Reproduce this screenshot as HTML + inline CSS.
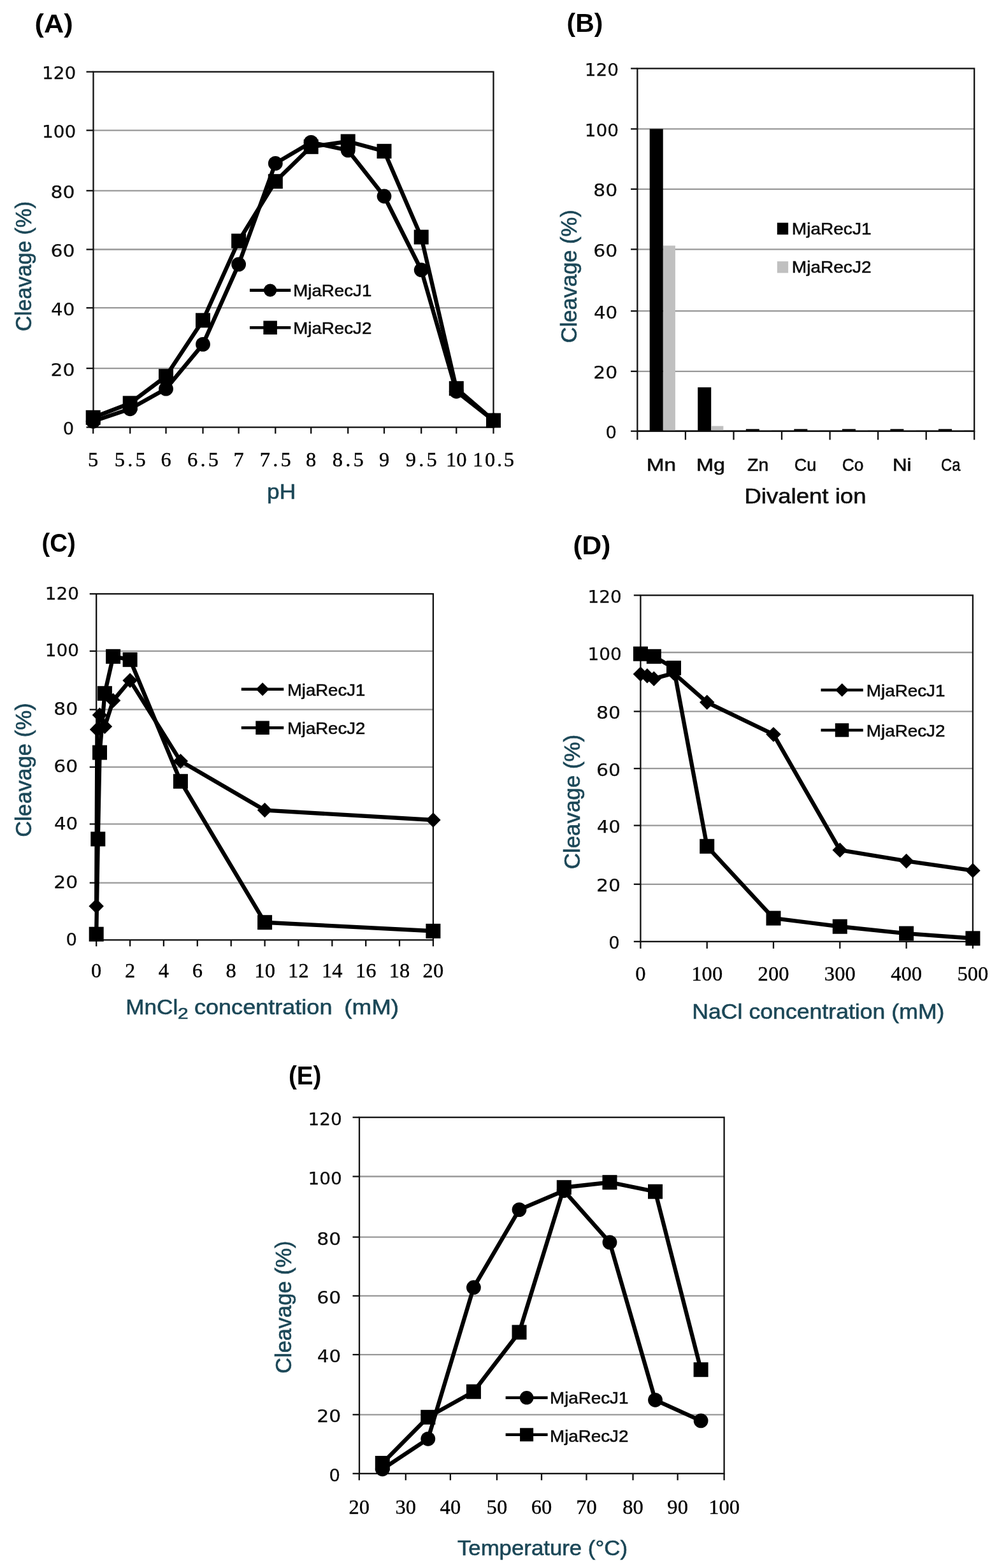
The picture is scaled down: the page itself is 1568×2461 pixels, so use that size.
<!DOCTYPE html><html><head><meta charset="utf-8"><title>MjaRecJ cleavage activity</title><style>html,body{margin:0;padding:0;background:#fff;}svg{display:block;filter:blur(0.45px);}</style></head><body>
<svg width="1568" height="2461" viewBox="0 0 1568 2461">
<rect width="1568" height="2461" fill="#fff"/>
<line x1="146.5" y1="578.1" x2="774.5" y2="578.1" stroke="#999" stroke-width="2.3"/>
<line x1="146.5" y1="483.2" x2="774.5" y2="483.2" stroke="#999" stroke-width="2.3"/>
<line x1="146.5" y1="391.5" x2="774.5" y2="391.5" stroke="#999" stroke-width="2.3"/>
<line x1="146.5" y1="299.3" x2="774.5" y2="299.3" stroke="#999" stroke-width="2.3"/>
<line x1="146.5" y1="204.6" x2="774.5" y2="204.6" stroke="#999" stroke-width="2.3"/>
<rect x="146.5" y="112.7" width="628" height="557.9" fill="none" stroke="#111" stroke-width="2.3"/>
<line x1="135.5" y1="670.6" x2="146.5" y2="670.6" stroke="#111" stroke-width="2.3"/>
<line x1="135.5" y1="578.1" x2="146.5" y2="578.1" stroke="#111" stroke-width="2.3"/>
<line x1="135.5" y1="483.2" x2="146.5" y2="483.2" stroke="#111" stroke-width="2.3"/>
<line x1="135.5" y1="391.5" x2="146.5" y2="391.5" stroke="#111" stroke-width="2.3"/>
<line x1="135.5" y1="299.3" x2="146.5" y2="299.3" stroke="#111" stroke-width="2.3"/>
<line x1="135.5" y1="204.6" x2="146.5" y2="204.6" stroke="#111" stroke-width="2.3"/>
<line x1="135.5" y1="112.7" x2="146.5" y2="112.7" stroke="#111" stroke-width="2.3"/>
<text x="98.7" y="682.1" font-size="26.5" font-family="'DejaVu Sans', Verdana, sans-serif" font-weight="normal" textLength="17.43" lengthAdjust="spacingAndGlyphs" fill="#0d0d0d" stroke="#0d0d0d" stroke-width="0.25">0</text>
<text x="79.5" y="589.6" font-size="26.5" font-family="'DejaVu Sans', Verdana, sans-serif" font-weight="normal" textLength="37.95" lengthAdjust="spacingAndGlyphs" fill="#0d0d0d" stroke="#0d0d0d" stroke-width="0.25">20</text>
<text x="80.1" y="494.7" font-size="26.5" font-family="'DejaVu Sans', Verdana, sans-serif" font-weight="normal" textLength="37.29" lengthAdjust="spacingAndGlyphs" fill="#0d0d0d" stroke="#0d0d0d" stroke-width="0.25">40</text>
<text x="79.5" y="403" font-size="26.5" font-family="'DejaVu Sans', Verdana, sans-serif" font-weight="normal" textLength="37.95" lengthAdjust="spacingAndGlyphs" fill="#0d0d0d" stroke="#0d0d0d" stroke-width="0.25">60</text>
<text x="79.5" y="310.8" font-size="26.5" font-family="'DejaVu Sans', Verdana, sans-serif" font-weight="normal" textLength="37.95" lengthAdjust="spacingAndGlyphs" fill="#0d0d0d" stroke="#0d0d0d" stroke-width="0.25">80</text>
<text x="65.9" y="216.1" font-size="26.5" font-family="'DejaVu Sans', Verdana, sans-serif" font-weight="normal" textLength="53.29" lengthAdjust="spacingAndGlyphs" fill="#0d0d0d" stroke="#0d0d0d" stroke-width="0.25">100</text>
<text x="65.9" y="124.2" font-size="26.5" font-family="'DejaVu Sans', Verdana, sans-serif" font-weight="normal" textLength="53.29" lengthAdjust="spacingAndGlyphs" fill="#0d0d0d" stroke="#0d0d0d" stroke-width="0.25">120</text>
<line x1="146.2" y1="670.6" x2="146.2" y2="680.6" stroke="#111" stroke-width="2.3"/>
<line x1="204.2" y1="670.6" x2="204.2" y2="680.6" stroke="#111" stroke-width="2.3"/>
<line x1="260.5" y1="670.6" x2="260.5" y2="680.6" stroke="#111" stroke-width="2.3"/>
<line x1="318.5" y1="670.6" x2="318.5" y2="680.6" stroke="#111" stroke-width="2.3"/>
<line x1="374.6" y1="670.6" x2="374.6" y2="680.6" stroke="#111" stroke-width="2.3"/>
<line x1="432.3" y1="670.6" x2="432.3" y2="680.6" stroke="#111" stroke-width="2.3"/>
<line x1="488.2" y1="670.6" x2="488.2" y2="680.6" stroke="#111" stroke-width="2.3"/>
<line x1="546.2" y1="670.6" x2="546.2" y2="680.6" stroke="#111" stroke-width="2.3"/>
<line x1="603" y1="670.6" x2="603" y2="680.6" stroke="#111" stroke-width="2.3"/>
<line x1="661.2" y1="670.6" x2="661.2" y2="680.6" stroke="#111" stroke-width="2.3"/>
<line x1="716.3" y1="670.6" x2="716.3" y2="680.6" stroke="#111" stroke-width="2.3"/>
<line x1="774.5" y1="670.6" x2="774.5" y2="680.6" stroke="#111" stroke-width="2.3"/>
<text x="146.2" y="732" font-size="32.5" font-family="'Liberation Serif', 'Times New Roman', serif" text-anchor="middle" textLength="16.3" lengthAdjust="spacing" fill="#000" stroke="#000" stroke-width="0.35">5</text>
<text x="204.2" y="732" font-size="32.5" font-family="'Liberation Serif', 'Times New Roman', serif" text-anchor="middle" textLength="48.9" lengthAdjust="spacing" fill="#000" stroke="#000" stroke-width="0.35">5.5</text>
<text x="260.5" y="732" font-size="32.5" font-family="'Liberation Serif', 'Times New Roman', serif" text-anchor="middle" textLength="16.3" lengthAdjust="spacing" fill="#000" stroke="#000" stroke-width="0.35">6</text>
<text x="318.5" y="732" font-size="32.5" font-family="'Liberation Serif', 'Times New Roman', serif" text-anchor="middle" textLength="48.9" lengthAdjust="spacing" fill="#000" stroke="#000" stroke-width="0.35">6.5</text>
<text x="374.6" y="732" font-size="32.5" font-family="'Liberation Serif', 'Times New Roman', serif" text-anchor="middle" textLength="16.3" lengthAdjust="spacing" fill="#000" stroke="#000" stroke-width="0.35">7</text>
<text x="432.3" y="732" font-size="32.5" font-family="'Liberation Serif', 'Times New Roman', serif" text-anchor="middle" textLength="48.9" lengthAdjust="spacing" fill="#000" stroke="#000" stroke-width="0.35">7.5</text>
<text x="488.2" y="732" font-size="32.5" font-family="'Liberation Serif', 'Times New Roman', serif" text-anchor="middle" textLength="16.3" lengthAdjust="spacing" fill="#000" stroke="#000" stroke-width="0.35">8</text>
<text x="546.2" y="732" font-size="32.5" font-family="'Liberation Serif', 'Times New Roman', serif" text-anchor="middle" textLength="48.9" lengthAdjust="spacing" fill="#000" stroke="#000" stroke-width="0.35">8.5</text>
<text x="603" y="732" font-size="32.5" font-family="'Liberation Serif', 'Times New Roman', serif" text-anchor="middle" textLength="16.3" lengthAdjust="spacing" fill="#000" stroke="#000" stroke-width="0.35">9</text>
<text x="661.2" y="732" font-size="32.5" font-family="'Liberation Serif', 'Times New Roman', serif" text-anchor="middle" textLength="48.9" lengthAdjust="spacing" fill="#000" stroke="#000" stroke-width="0.35">9.5</text>
<text x="716.3" y="732" font-size="32.5" font-family="'Liberation Serif', 'Times New Roman', serif" text-anchor="middle" textLength="32.6" lengthAdjust="spacing" fill="#000" stroke="#000" stroke-width="0.35">10</text>
<text x="774.5" y="732" font-size="32.5" font-family="'Liberation Serif', 'Times New Roman', serif" text-anchor="middle" textLength="65.2" lengthAdjust="spacing" fill="#000" stroke="#000" stroke-width="0.35">10.5</text>
<path d="M146.2 655.3 L204.2 632.9 L260.5 590.6 L318.5 502.8 L374.6 378.2 L432.3 284.7 L488.2 230.3 L546.2 222 L603 237.3 L661.2 372.1 L716.3 609.7 L774.5 659.9" fill="none" stroke="#000" stroke-width="6.4" stroke-linejoin="round" stroke-linecap="round"/>
<g fill="#000">
<rect x="134.7" y="643.8" width="23" height="23"/>
<rect x="192.7" y="621.4" width="23" height="23"/>
<rect x="249" y="579.1" width="23" height="23"/>
<rect x="307" y="491.3" width="23" height="23"/>
<rect x="363.1" y="366.7" width="23" height="23"/>
<rect x="420.8" y="273.2" width="23" height="23"/>
<rect x="476.7" y="218.8" width="23" height="23"/>
<rect x="534.7" y="210.5" width="23" height="23"/>
<rect x="591.5" y="225.8" width="23" height="23"/>
<rect x="649.7" y="360.6" width="23" height="23"/>
<rect x="704.8" y="598.2" width="23" height="23"/>
<rect x="763" y="648.4" width="23" height="23"/>
</g>
<path d="M146.2 661.3 L204.2 641.8 L260.5 610.2 L318.5 540.4 L374.6 414.9 L432.3 256.4 L488.2 223.4 L546.2 235.9 L603 308 L661.2 423.7 L716.3 614.3 L774.5 659.9" fill="none" stroke="#000" stroke-width="6.4" stroke-linejoin="round" stroke-linecap="round"/>
<g fill="#000">
<circle cx="146.2" cy="661.3" r="11.4"/>
<circle cx="204.2" cy="641.8" r="11.4"/>
<circle cx="260.5" cy="610.2" r="11.4"/>
<circle cx="318.5" cy="540.4" r="11.4"/>
<circle cx="374.6" cy="414.9" r="11.4"/>
<circle cx="432.3" cy="256.4" r="11.4"/>
<circle cx="488.2" cy="223.4" r="11.4"/>
<circle cx="546.2" cy="235.9" r="11.4"/>
<circle cx="603" cy="308" r="11.4"/>
<circle cx="661.2" cy="423.7" r="11.4"/>
<circle cx="716.3" cy="614.3" r="11.4"/>
<circle cx="774.5" cy="659.9" r="11.4"/>
</g>
<line x1="392" y1="455.6" x2="456.3" y2="455.6" stroke="#000" stroke-width="4.6"/>
<g fill="#000">
<circle cx="424.1" cy="455.6" r="10.2"/>
</g>
<line x1="392" y1="514.2" x2="456.3" y2="514.2" stroke="#000" stroke-width="4.6"/>
<g fill="#000">
<rect x="413.4" y="503.5" width="21.5" height="21.5"/>
</g>
<text x="460.2" y="465.1" font-size="26.6" font-family="'Liberation Sans', Arial, sans-serif" font-weight="normal" textLength="123.09" lengthAdjust="spacingAndGlyphs" fill="#0d0d0d" stroke="#0d0d0d" stroke-width="0.6">MjaRecJ1</text>
<text x="460.2" y="523.8" font-size="26.6" font-family="'Liberation Sans', Arial, sans-serif" font-weight="normal" textLength="123.09" lengthAdjust="spacingAndGlyphs" fill="#0d0d0d" stroke="#0d0d0d" stroke-width="0.6">MjaRecJ2</text>
<text x="419" y="782.6" font-size="34" font-family="'Liberation Sans', Arial, sans-serif" font-weight="normal" textLength="45.14" lengthAdjust="spacingAndGlyphs" fill="#1b4757" stroke="#1b4757" stroke-width="0.6">pH</text>
<text transform="translate(48.9 520) rotate(-90)" x="0" y="0" font-size="34.6" font-family="'Liberation Sans', Arial, sans-serif" font-weight="normal" textLength="203.94" lengthAdjust="spacingAndGlyphs" fill="#1b4757" stroke="#1b4757" stroke-width="0.6">Cleavage (%)</text>
<text x="54.5" y="51.2" font-size="41.4" font-family="'Liberation Sans', Arial, sans-serif" font-weight="bold" textLength="60.05" lengthAdjust="spacingAndGlyphs" fill="#000">(A)</text>
<line x1="1000.4" y1="582.8" x2="1529.2" y2="582.8" stroke="#999" stroke-width="2.3"/>
<line x1="1000.4" y1="488.2" x2="1529.2" y2="488.2" stroke="#999" stroke-width="2.3"/>
<line x1="1000.4" y1="391.3" x2="1529.2" y2="391.3" stroke="#999" stroke-width="2.3"/>
<line x1="1000.4" y1="296.8" x2="1529.2" y2="296.8" stroke="#999" stroke-width="2.3"/>
<line x1="1000.4" y1="202.4" x2="1529.2" y2="202.4" stroke="#999" stroke-width="2.3"/>
<rect x="1000.4" y="107.5" width="528.8" height="569.2" fill="none" stroke="#111" stroke-width="2.3"/>
<line x1="990.1" y1="676.7" x2="1000.4" y2="676.7" stroke="#111" stroke-width="2.3"/>
<line x1="990.1" y1="582.8" x2="1000.4" y2="582.8" stroke="#111" stroke-width="2.3"/>
<line x1="990.1" y1="488.2" x2="1000.4" y2="488.2" stroke="#111" stroke-width="2.3"/>
<line x1="990.1" y1="391.3" x2="1000.4" y2="391.3" stroke="#111" stroke-width="2.3"/>
<line x1="990.1" y1="296.8" x2="1000.4" y2="296.8" stroke="#111" stroke-width="2.3"/>
<line x1="990.1" y1="202.4" x2="1000.4" y2="202.4" stroke="#111" stroke-width="2.3"/>
<line x1="990.1" y1="107.5" x2="1000.4" y2="107.5" stroke="#111" stroke-width="2.3"/>
<text x="950.5" y="688" font-size="26.5" font-family="'DejaVu Sans', Verdana, sans-serif" font-weight="normal" textLength="17.43" lengthAdjust="spacingAndGlyphs" fill="#0d0d0d" stroke="#0d0d0d" stroke-width="0.25">0</text>
<text x="931.3" y="594.1" font-size="26.5" font-family="'DejaVu Sans', Verdana, sans-serif" font-weight="normal" textLength="37.95" lengthAdjust="spacingAndGlyphs" fill="#0d0d0d" stroke="#0d0d0d" stroke-width="0.25">20</text>
<text x="931.9" y="499.5" font-size="26.5" font-family="'DejaVu Sans', Verdana, sans-serif" font-weight="normal" textLength="37.29" lengthAdjust="spacingAndGlyphs" fill="#0d0d0d" stroke="#0d0d0d" stroke-width="0.25">40</text>
<text x="931.3" y="402.6" font-size="26.5" font-family="'DejaVu Sans', Verdana, sans-serif" font-weight="normal" textLength="37.95" lengthAdjust="spacingAndGlyphs" fill="#0d0d0d" stroke="#0d0d0d" stroke-width="0.25">60</text>
<text x="931.3" y="308.1" font-size="26.5" font-family="'DejaVu Sans', Verdana, sans-serif" font-weight="normal" textLength="37.95" lengthAdjust="spacingAndGlyphs" fill="#0d0d0d" stroke="#0d0d0d" stroke-width="0.25">80</text>
<text x="917.7" y="213.7" font-size="26.5" font-family="'DejaVu Sans', Verdana, sans-serif" font-weight="normal" textLength="53.29" lengthAdjust="spacingAndGlyphs" fill="#0d0d0d" stroke="#0d0d0d" stroke-width="0.25">100</text>
<text x="917.7" y="118.8" font-size="26.5" font-family="'DejaVu Sans', Verdana, sans-serif" font-weight="normal" textLength="53.29" lengthAdjust="spacingAndGlyphs" fill="#0d0d0d" stroke="#0d0d0d" stroke-width="0.25">120</text>
<line x1="1000.4" y1="676.7" x2="1000.4" y2="690.3" stroke="#111" stroke-width="2.3"/>
<line x1="1075.9" y1="676.7" x2="1075.9" y2="690.3" stroke="#111" stroke-width="2.3"/>
<line x1="1151.5" y1="676.7" x2="1151.5" y2="690.3" stroke="#111" stroke-width="2.3"/>
<line x1="1227" y1="676.7" x2="1227" y2="690.3" stroke="#111" stroke-width="2.3"/>
<line x1="1302.6" y1="676.7" x2="1302.6" y2="690.3" stroke="#111" stroke-width="2.3"/>
<line x1="1378.1" y1="676.7" x2="1378.1" y2="690.3" stroke="#111" stroke-width="2.3"/>
<line x1="1453.7" y1="676.7" x2="1453.7" y2="690.3" stroke="#111" stroke-width="2.3"/>
<line x1="1529.2" y1="676.7" x2="1529.2" y2="690.3" stroke="#111" stroke-width="2.3"/>
<rect x="1019.7" y="202.4" width="21" height="474.3" fill="#000"/>
<rect x="1041" y="385.5" width="18.9" height="291.2" fill="#c0c0c0"/>
<text x="1014.7" y="739.4" font-size="27.6" font-family="'Liberation Sans', Arial, sans-serif" font-weight="normal" textLength="46.38" lengthAdjust="spacingAndGlyphs" fill="#0d0d0d" stroke="#0d0d0d" stroke-width="0.6">Mn</text>
<rect x="1095.2" y="607.9" width="21" height="68.8" fill="#000"/>
<rect x="1116.5" y="668.6" width="18.9" height="8.1" fill="#c0c0c0"/>
<text x="1093" y="739.4" font-size="27.6" font-family="'Liberation Sans', Arial, sans-serif" font-weight="normal" textLength="44.93" lengthAdjust="spacingAndGlyphs" fill="#0d0d0d" stroke="#0d0d0d" stroke-width="0.6">Mg</text>
<rect x="1170.8" y="673.4" width="21" height="3.3" fill="#000"/>
<rect x="1192.1" y="675.3" width="18.9" height="1.4" fill="#c0c0c0"/>
<text x="1173.1" y="739.4" font-size="27.6" font-family="'Liberation Sans', Arial, sans-serif" font-weight="normal" textLength="33.27" lengthAdjust="spacingAndGlyphs" fill="#0d0d0d" stroke="#0d0d0d" stroke-width="0.6">Zn</text>
<rect x="1246.3" y="673.4" width="21" height="3.3" fill="#000"/>
<rect x="1267.6" y="675.3" width="18.9" height="1.4" fill="#c0c0c0"/>
<text x="1246.8" y="739.4" font-size="27.6" font-family="'Liberation Sans', Arial, sans-serif" font-weight="normal" textLength="34.50" lengthAdjust="spacingAndGlyphs" fill="#0d0d0d" stroke="#0d0d0d" stroke-width="0.6">Cu</text>
<rect x="1321.9" y="673.4" width="21" height="3.3" fill="#000"/>
<rect x="1343.2" y="675.3" width="18.9" height="1.4" fill="#c0c0c0"/>
<text x="1321.7" y="739.4" font-size="27.6" font-family="'Liberation Sans', Arial, sans-serif" font-weight="normal" textLength="33.73" lengthAdjust="spacingAndGlyphs" fill="#0d0d0d" stroke="#0d0d0d" stroke-width="0.6">Co</text>
<rect x="1397.4" y="673.4" width="21" height="3.3" fill="#000"/>
<rect x="1418.7" y="675.3" width="18.9" height="1.4" fill="#c0c0c0"/>
<text x="1400.9" y="739.4" font-size="27.6" font-family="'Liberation Sans', Arial, sans-serif" font-weight="normal" textLength="29.63" lengthAdjust="spacingAndGlyphs" fill="#0d0d0d" stroke="#0d0d0d" stroke-width="0.6">Ni</text>
<rect x="1473" y="673.4" width="21" height="3.3" fill="#000"/>
<rect x="1494.3" y="675.3" width="18.9" height="1.4" fill="#c0c0c0"/>
<text x="1477.1" y="739.4" font-size="27.6" font-family="'Liberation Sans', Arial, sans-serif" font-weight="normal" textLength="30.35" lengthAdjust="spacingAndGlyphs" fill="#0d0d0d" stroke="#0d0d0d" stroke-width="0.6">Ca</text>
<line x1="1000.4" y1="676.7" x2="1529.2" y2="676.7" stroke="#111" stroke-width="2.3"/>
<rect x="1219.8" y="349.6" width="17.4" height="18.6" fill="#000"/>
<rect x="1219.8" y="410.2" width="17.4" height="18.2" fill="#c0c0c0"/>
<text x="1242.8" y="368.2" font-size="26.6" font-family="'Liberation Sans', Arial, sans-serif" font-weight="normal" textLength="124.73" lengthAdjust="spacingAndGlyphs" fill="#0d0d0d" stroke="#0d0d0d" stroke-width="0.6">MjaRecJ1</text>
<text x="1242.8" y="428.4" font-size="26.6" font-family="'Liberation Sans', Arial, sans-serif" font-weight="normal" textLength="124.73" lengthAdjust="spacingAndGlyphs" fill="#0d0d0d" stroke="#0d0d0d" stroke-width="0.6">MjaRecJ2</text>
<text x="1168.4" y="790.4" font-size="34" font-family="'Liberation Sans', Arial, sans-serif" font-weight="normal" textLength="191.11" lengthAdjust="spacingAndGlyphs" fill="#0d0d0d" stroke="#0d0d0d" stroke-width="0.6">Divalent ion</text>
<text transform="translate(905.4 538.2) rotate(-90)" x="0" y="0" font-size="34.6" font-family="'Liberation Sans', Arial, sans-serif" font-weight="normal" textLength="208.93" lengthAdjust="spacingAndGlyphs" fill="#1b4757" stroke="#1b4757" stroke-width="0.6">Cleavage (%)</text>
<text x="889.5" y="50.2" font-size="41.4" font-family="'Liberation Sans', Arial, sans-serif" font-weight="bold" textLength="56.82" lengthAdjust="spacingAndGlyphs" fill="#000">(B)</text>
<line x1="151.2" y1="1385.6" x2="679.9" y2="1385.6" stroke="#999" stroke-width="2.3"/>
<line x1="151.2" y1="1293.4" x2="679.9" y2="1293.4" stroke="#999" stroke-width="2.3"/>
<line x1="151.2" y1="1203.9" x2="679.9" y2="1203.9" stroke="#999" stroke-width="2.3"/>
<line x1="151.2" y1="1113.7" x2="679.9" y2="1113.7" stroke="#999" stroke-width="2.3"/>
<line x1="151.2" y1="1021.9" x2="679.9" y2="1021.9" stroke="#999" stroke-width="2.3"/>
<rect x="151.2" y="932.1" width="528.7" height="543.2" fill="none" stroke="#111" stroke-width="2.3"/>
<line x1="140.7" y1="1475.3" x2="151.2" y2="1475.3" stroke="#111" stroke-width="2.3"/>
<line x1="140.7" y1="1385.6" x2="151.2" y2="1385.6" stroke="#111" stroke-width="2.3"/>
<line x1="140.7" y1="1293.4" x2="151.2" y2="1293.4" stroke="#111" stroke-width="2.3"/>
<line x1="140.7" y1="1203.9" x2="151.2" y2="1203.9" stroke="#111" stroke-width="2.3"/>
<line x1="140.7" y1="1113.7" x2="151.2" y2="1113.7" stroke="#111" stroke-width="2.3"/>
<line x1="140.7" y1="1021.9" x2="151.2" y2="1021.9" stroke="#111" stroke-width="2.3"/>
<line x1="140.7" y1="932.1" x2="151.2" y2="932.1" stroke="#111" stroke-width="2.3"/>
<text x="103.5" y="1483.8" font-size="26.5" font-family="'DejaVu Sans', Verdana, sans-serif" font-weight="normal" textLength="17.43" lengthAdjust="spacingAndGlyphs" fill="#0d0d0d" stroke="#0d0d0d" stroke-width="0.25">0</text>
<text x="84.3" y="1394.1" font-size="26.5" font-family="'DejaVu Sans', Verdana, sans-serif" font-weight="normal" textLength="37.95" lengthAdjust="spacingAndGlyphs" fill="#0d0d0d" stroke="#0d0d0d" stroke-width="0.25">20</text>
<text x="84.9" y="1301.9" font-size="26.5" font-family="'DejaVu Sans', Verdana, sans-serif" font-weight="normal" textLength="37.29" lengthAdjust="spacingAndGlyphs" fill="#0d0d0d" stroke="#0d0d0d" stroke-width="0.25">40</text>
<text x="84.3" y="1212.4" font-size="26.5" font-family="'DejaVu Sans', Verdana, sans-serif" font-weight="normal" textLength="37.95" lengthAdjust="spacingAndGlyphs" fill="#0d0d0d" stroke="#0d0d0d" stroke-width="0.25">60</text>
<text x="84.3" y="1122.2" font-size="26.5" font-family="'DejaVu Sans', Verdana, sans-serif" font-weight="normal" textLength="37.95" lengthAdjust="spacingAndGlyphs" fill="#0d0d0d" stroke="#0d0d0d" stroke-width="0.25">80</text>
<text x="70.7" y="1030.4" font-size="26.5" font-family="'DejaVu Sans', Verdana, sans-serif" font-weight="normal" textLength="53.29" lengthAdjust="spacingAndGlyphs" fill="#0d0d0d" stroke="#0d0d0d" stroke-width="0.25">100</text>
<text x="70.7" y="940.6" font-size="26.5" font-family="'DejaVu Sans', Verdana, sans-serif" font-weight="normal" textLength="53.29" lengthAdjust="spacingAndGlyphs" fill="#0d0d0d" stroke="#0d0d0d" stroke-width="0.25">120</text>
<line x1="151.2" y1="1475.3" x2="151.2" y2="1485.3" stroke="#111" stroke-width="2.3"/>
<line x1="204.1" y1="1475.3" x2="204.1" y2="1485.3" stroke="#111" stroke-width="2.3"/>
<line x1="256.9" y1="1475.3" x2="256.9" y2="1485.3" stroke="#111" stroke-width="2.3"/>
<line x1="309.8" y1="1475.3" x2="309.8" y2="1485.3" stroke="#111" stroke-width="2.3"/>
<line x1="362.7" y1="1475.3" x2="362.7" y2="1485.3" stroke="#111" stroke-width="2.3"/>
<line x1="415.6" y1="1475.3" x2="415.6" y2="1485.3" stroke="#111" stroke-width="2.3"/>
<line x1="468.4" y1="1475.3" x2="468.4" y2="1485.3" stroke="#111" stroke-width="2.3"/>
<line x1="521.3" y1="1475.3" x2="521.3" y2="1485.3" stroke="#111" stroke-width="2.3"/>
<line x1="574.2" y1="1475.3" x2="574.2" y2="1485.3" stroke="#111" stroke-width="2.3"/>
<line x1="627" y1="1475.3" x2="627" y2="1485.3" stroke="#111" stroke-width="2.3"/>
<line x1="679.9" y1="1475.3" x2="679.9" y2="1485.3" stroke="#111" stroke-width="2.3"/>
<text x="151.2" y="1534" font-size="32.5" font-family="'Liberation Serif', 'Times New Roman', serif" text-anchor="middle" textLength="16.3" lengthAdjust="spacing" fill="#000" stroke="#000" stroke-width="0.35">0</text>
<text x="204.1" y="1534" font-size="32.5" font-family="'Liberation Serif', 'Times New Roman', serif" text-anchor="middle" textLength="16.3" lengthAdjust="spacing" fill="#000" stroke="#000" stroke-width="0.35">2</text>
<text x="256.9" y="1534" font-size="32.5" font-family="'Liberation Serif', 'Times New Roman', serif" text-anchor="middle" textLength="16.3" lengthAdjust="spacing" fill="#000" stroke="#000" stroke-width="0.35">4</text>
<text x="309.8" y="1534" font-size="32.5" font-family="'Liberation Serif', 'Times New Roman', serif" text-anchor="middle" textLength="16.3" lengthAdjust="spacing" fill="#000" stroke="#000" stroke-width="0.35">6</text>
<text x="362.7" y="1534" font-size="32.5" font-family="'Liberation Serif', 'Times New Roman', serif" text-anchor="middle" textLength="16.3" lengthAdjust="spacing" fill="#000" stroke="#000" stroke-width="0.35">8</text>
<text x="415.6" y="1534" font-size="32.5" font-family="'Liberation Serif', 'Times New Roman', serif" text-anchor="middle" textLength="32.6" lengthAdjust="spacing" fill="#000" stroke="#000" stroke-width="0.35">10</text>
<text x="468.4" y="1534" font-size="32.5" font-family="'Liberation Serif', 'Times New Roman', serif" text-anchor="middle" textLength="32.6" lengthAdjust="spacing" fill="#000" stroke="#000" stroke-width="0.35">12</text>
<text x="521.3" y="1534" font-size="32.5" font-family="'Liberation Serif', 'Times New Roman', serif" text-anchor="middle" textLength="32.6" lengthAdjust="spacing" fill="#000" stroke="#000" stroke-width="0.35">14</text>
<text x="574.2" y="1534" font-size="32.5" font-family="'Liberation Serif', 'Times New Roman', serif" text-anchor="middle" textLength="32.6" lengthAdjust="spacing" fill="#000" stroke="#000" stroke-width="0.35">16</text>
<text x="627" y="1534" font-size="32.5" font-family="'Liberation Serif', 'Times New Roman', serif" text-anchor="middle" textLength="32.6" lengthAdjust="spacing" fill="#000" stroke="#000" stroke-width="0.35">18</text>
<text x="679.9" y="1534" font-size="32.5" font-family="'Liberation Serif', 'Times New Roman', serif" text-anchor="middle" textLength="32.6" lengthAdjust="spacing" fill="#000" stroke="#000" stroke-width="0.35">20</text>
<path d="M151.2 1466.2 L153.8 1316.9 L156.5 1181.1 L164.4 1088.3 L177.6 1030.3 L204.1 1035.3 L283.4 1226.3 L415.6 1447.7 L679.9 1461.3" fill="none" stroke="#000" stroke-width="6.4" stroke-linejoin="round" stroke-linecap="round"/>
<g fill="#000">
<rect x="139.7" y="1454.7" width="23" height="23"/>
<rect x="142.3" y="1305.4" width="23" height="23"/>
<rect x="145" y="1169.6" width="23" height="23"/>
<rect x="152.9" y="1076.8" width="23" height="23"/>
<rect x="166.1" y="1018.8" width="23" height="23"/>
<rect x="192.6" y="1023.8" width="23" height="23"/>
<rect x="271.9" y="1214.8" width="23" height="23"/>
<rect x="404.1" y="1436.2" width="23" height="23"/>
<rect x="668.4" y="1449.8" width="23" height="23"/>
</g>
<path d="M151.2 1422.3 L152.5 1144.9 L156.5 1122.2 L164.4 1140.3 L177.6 1099.6 L204.1 1067.9 L283.4 1194.6 L415.6 1271.6 L679.9 1287" fill="none" stroke="#000" stroke-width="6.4" stroke-linejoin="round" stroke-linecap="round"/>
<g fill="#000">
<path d="M151.2 1410.6L162.9 1422.3L151.2 1434.1L139.4 1422.3Z"/>
<path d="M152.5 1133.1L164.3 1144.9L152.5 1156.6L140.8 1144.9Z"/>
<path d="M156.5 1110.5L168.2 1122.2L156.5 1134L144.7 1122.2Z"/>
<path d="M164.4 1128.6L176.2 1140.3L164.4 1152.1L152.7 1140.3Z"/>
<path d="M177.6 1087.8L189.4 1099.6L177.6 1111.3L165.9 1099.6Z"/>
<path d="M204.1 1056.2L215.8 1067.9L204.1 1079.7L192.3 1067.9Z"/>
<path d="M283.4 1182.9L295.1 1194.6L283.4 1206.4L271.6 1194.6Z"/>
<path d="M415.6 1259.8L427.3 1271.6L415.6 1283.3L403.8 1271.6Z"/>
<path d="M679.9 1275.2L691.7 1287L679.9 1298.7L668.2 1287Z"/>
</g>
<line x1="378.8" y1="1081.8" x2="445.3" y2="1081.8" stroke="#000" stroke-width="4.6"/>
<g fill="#000">
<path d="M412.1 1071.3L422.6 1081.8L412.1 1092.3L401.6 1081.8Z"/>
</g>
<line x1="378.8" y1="1142.3" x2="445.3" y2="1142.3" stroke="#000" stroke-width="4.6"/>
<g fill="#000">
<rect x="401.3" y="1131.5" width="21.5" height="21.5"/>
</g>
<text x="450.9" y="1091.5" font-size="26.6" font-family="'Liberation Sans', Arial, sans-serif" font-weight="normal" textLength="122.37" lengthAdjust="spacingAndGlyphs" fill="#0d0d0d" stroke="#0d0d0d" stroke-width="0.6">MjaRecJ1</text>
<text x="450.9" y="1151.7" font-size="26.6" font-family="'Liberation Sans', Arial, sans-serif" font-weight="normal" textLength="122.37" lengthAdjust="spacingAndGlyphs" fill="#0d0d0d" stroke="#0d0d0d" stroke-width="0.6">MjaRecJ2</text>
<text x="197.2" y="1592.2" font-size="34" font-family="'Liberation Sans', Arial, sans-serif" font-weight="normal" textLength="82.05" lengthAdjust="spacingAndGlyphs" fill="#1b4757" stroke="#1b4757" stroke-width="0.6">MnCl</text>
<text x="279" y="1599" font-size="24" font-family="'Liberation Sans', Arial, sans-serif" font-weight="normal" textLength="16.57" lengthAdjust="spacingAndGlyphs" fill="#1b4757" stroke="#1b4757" stroke-width="0.6">2</text>
<text x="305" y="1592.2" font-size="34" font-family="'Liberation Sans', Arial, sans-serif" font-weight="normal" textLength="216.45" lengthAdjust="spacingAndGlyphs" fill="#1b4757" stroke="#1b4757" stroke-width="0.6">concentration</text>
<text x="540.2" y="1592.2" font-size="34" font-family="'Liberation Sans', Arial, sans-serif" font-weight="normal" textLength="85.89" lengthAdjust="spacingAndGlyphs" fill="#1b4757" stroke="#1b4757" stroke-width="0.6">(mM)</text>
<text transform="translate(48.9 1313.7) rotate(-90)" x="0" y="0" font-size="34.6" font-family="'Liberation Sans', Arial, sans-serif" font-weight="normal" textLength="210.35" lengthAdjust="spacingAndGlyphs" fill="#1b4757" stroke="#1b4757" stroke-width="0.6">Cleavage (%)</text>
<text x="65.5" y="865.6" font-size="41.4" font-family="'Liberation Sans', Arial, sans-serif" font-weight="bold" textLength="53.27" lengthAdjust="spacingAndGlyphs" fill="#000">(C)</text>
<line x1="1005.4" y1="1387.8" x2="1526.9" y2="1387.8" stroke="#999" stroke-width="2.3"/>
<line x1="1005.4" y1="1295.6" x2="1526.9" y2="1295.6" stroke="#999" stroke-width="2.3"/>
<line x1="1005.4" y1="1206.2" x2="1526.9" y2="1206.2" stroke="#999" stroke-width="2.3"/>
<line x1="1005.4" y1="1116.6" x2="1526.9" y2="1116.6" stroke="#999" stroke-width="2.3"/>
<line x1="1005.4" y1="1024" x2="1526.9" y2="1024" stroke="#999" stroke-width="2.3"/>
<rect x="1005.4" y="934.3" width="521.5" height="543.5" fill="none" stroke="#111" stroke-width="2.3"/>
<line x1="994.8" y1="1477.8" x2="1005.4" y2="1477.8" stroke="#111" stroke-width="2.3"/>
<line x1="994.8" y1="1387.8" x2="1005.4" y2="1387.8" stroke="#111" stroke-width="2.3"/>
<line x1="994.8" y1="1295.6" x2="1005.4" y2="1295.6" stroke="#111" stroke-width="2.3"/>
<line x1="994.8" y1="1206.2" x2="1005.4" y2="1206.2" stroke="#111" stroke-width="2.3"/>
<line x1="994.8" y1="1116.6" x2="1005.4" y2="1116.6" stroke="#111" stroke-width="2.3"/>
<line x1="994.8" y1="1024" x2="1005.4" y2="1024" stroke="#111" stroke-width="2.3"/>
<line x1="994.8" y1="934.3" x2="1005.4" y2="934.3" stroke="#111" stroke-width="2.3"/>
<text x="955.3" y="1489.4" font-size="26.5" font-family="'DejaVu Sans', Verdana, sans-serif" font-weight="normal" textLength="17.43" lengthAdjust="spacingAndGlyphs" fill="#0d0d0d" stroke="#0d0d0d" stroke-width="0.25">0</text>
<text x="936.1" y="1399.4" font-size="26.5" font-family="'DejaVu Sans', Verdana, sans-serif" font-weight="normal" textLength="37.95" lengthAdjust="spacingAndGlyphs" fill="#0d0d0d" stroke="#0d0d0d" stroke-width="0.25">20</text>
<text x="936.7" y="1307.2" font-size="26.5" font-family="'DejaVu Sans', Verdana, sans-serif" font-weight="normal" textLength="37.29" lengthAdjust="spacingAndGlyphs" fill="#0d0d0d" stroke="#0d0d0d" stroke-width="0.25">40</text>
<text x="936.1" y="1217.8" font-size="26.5" font-family="'DejaVu Sans', Verdana, sans-serif" font-weight="normal" textLength="37.95" lengthAdjust="spacingAndGlyphs" fill="#0d0d0d" stroke="#0d0d0d" stroke-width="0.25">60</text>
<text x="936.1" y="1128.2" font-size="26.5" font-family="'DejaVu Sans', Verdana, sans-serif" font-weight="normal" textLength="37.95" lengthAdjust="spacingAndGlyphs" fill="#0d0d0d" stroke="#0d0d0d" stroke-width="0.25">80</text>
<text x="922.5" y="1035.6" font-size="26.5" font-family="'DejaVu Sans', Verdana, sans-serif" font-weight="normal" textLength="53.29" lengthAdjust="spacingAndGlyphs" fill="#0d0d0d" stroke="#0d0d0d" stroke-width="0.25">100</text>
<text x="922.5" y="945.9" font-size="26.5" font-family="'DejaVu Sans', Verdana, sans-serif" font-weight="normal" textLength="53.29" lengthAdjust="spacingAndGlyphs" fill="#0d0d0d" stroke="#0d0d0d" stroke-width="0.25">120</text>
<line x1="1005.4" y1="1477.8" x2="1005.4" y2="1488.8" stroke="#111" stroke-width="2.3"/>
<line x1="1109.7" y1="1477.8" x2="1109.7" y2="1488.8" stroke="#111" stroke-width="2.3"/>
<line x1="1214" y1="1477.8" x2="1214" y2="1488.8" stroke="#111" stroke-width="2.3"/>
<line x1="1318.3" y1="1477.8" x2="1318.3" y2="1488.8" stroke="#111" stroke-width="2.3"/>
<line x1="1422.6" y1="1477.8" x2="1422.6" y2="1488.8" stroke="#111" stroke-width="2.3"/>
<line x1="1526.9" y1="1477.8" x2="1526.9" y2="1488.8" stroke="#111" stroke-width="2.3"/>
<text x="1005.4" y="1539" font-size="32.5" font-family="'Liberation Serif', 'Times New Roman', serif" text-anchor="middle" textLength="16.3" lengthAdjust="spacing" fill="#000" stroke="#000" stroke-width="0.35">0</text>
<text x="1109.7" y="1539" font-size="32.5" font-family="'Liberation Serif', 'Times New Roman', serif" text-anchor="middle" textLength="48.9" lengthAdjust="spacing" fill="#000" stroke="#000" stroke-width="0.35">100</text>
<text x="1214" y="1539" font-size="32.5" font-family="'Liberation Serif', 'Times New Roman', serif" text-anchor="middle" textLength="48.9" lengthAdjust="spacing" fill="#000" stroke="#000" stroke-width="0.35">200</text>
<text x="1318.3" y="1539" font-size="32.5" font-family="'Liberation Serif', 'Times New Roman', serif" text-anchor="middle" textLength="48.9" lengthAdjust="spacing" fill="#000" stroke="#000" stroke-width="0.35">300</text>
<text x="1422.6" y="1539" font-size="32.5" font-family="'Liberation Serif', 'Times New Roman', serif" text-anchor="middle" textLength="48.9" lengthAdjust="spacing" fill="#000" stroke="#000" stroke-width="0.35">400</text>
<text x="1526.9" y="1539" font-size="32.5" font-family="'Liberation Serif', 'Times New Roman', serif" text-anchor="middle" textLength="48.9" lengthAdjust="spacing" fill="#000" stroke="#000" stroke-width="0.35">500</text>
<path d="M1005.4 1057.9 L1015.8 1060.7 L1026.3 1065.2 L1057.5 1056.6 L1109.7 1102.3 L1214 1152.6 L1318.3 1334.2 L1422.6 1351.4 L1526.9 1366.4" fill="none" stroke="#000" stroke-width="6.4" stroke-linejoin="round" stroke-linecap="round"/>
<g fill="#000">
<path d="M1005.4 1046.2L1017.1 1057.9L1005.4 1069.7L993.6 1057.9Z"/>
<path d="M1015.8 1048.9L1027.6 1060.7L1015.8 1072.4L1004.1 1060.7Z"/>
<path d="M1026.3 1053.4L1038 1065.2L1026.3 1076.9L1014.5 1065.2Z"/>
<path d="M1057.5 1044.8L1069.3 1056.6L1057.5 1068.3L1045.8 1056.6Z"/>
<path d="M1109.7 1090.6L1121.5 1102.3L1109.7 1114.1L1098 1102.3Z"/>
<path d="M1214 1140.9L1225.8 1152.6L1214 1164.4L1202.2 1152.6Z"/>
<path d="M1318.3 1322.5L1330 1334.2L1318.3 1346L1306.5 1334.2Z"/>
<path d="M1422.6 1339.7L1434.3 1351.4L1422.6 1363.2L1410.8 1351.4Z"/>
<path d="M1526.9 1354.6L1538.7 1366.4L1526.9 1378.1L1515.2 1366.4Z"/>
</g>
<path d="M1005.4 1026.2 L1026.3 1030.3 L1057.5 1048.4 L1109.7 1328.3 L1214 1441.1 L1318.3 1454.2 L1422.6 1465.1 L1526.9 1472.8" fill="none" stroke="#000" stroke-width="6.4" stroke-linejoin="round" stroke-linecap="round"/>
<g fill="#000">
<rect x="993.9" y="1014.7" width="23" height="23"/>
<rect x="1014.8" y="1018.8" width="23" height="23"/>
<rect x="1046" y="1036.9" width="23" height="23"/>
<rect x="1098.2" y="1316.8" width="23" height="23"/>
<rect x="1202.5" y="1429.6" width="23" height="23"/>
<rect x="1306.8" y="1442.7" width="23" height="23"/>
<rect x="1411.1" y="1453.6" width="23" height="23"/>
<rect x="1515.4" y="1461.3" width="23" height="23"/>
</g>
<line x1="1288.5" y1="1083" x2="1354.7" y2="1083" stroke="#000" stroke-width="4.6"/>
<g fill="#000">
<path d="M1321.6 1072.5L1332.1 1083L1321.6 1093.5L1311.1 1083Z"/>
</g>
<line x1="1288.5" y1="1146" x2="1354.7" y2="1146" stroke="#000" stroke-width="4.6"/>
<g fill="#000">
<rect x="1310.8" y="1135.2" width="21.5" height="21.5"/>
</g>
<text x="1359.8" y="1093" font-size="26.6" font-family="'Liberation Sans', Arial, sans-serif" font-weight="normal" textLength="123.70" lengthAdjust="spacingAndGlyphs" fill="#0d0d0d" stroke="#0d0d0d" stroke-width="0.6">MjaRecJ1</text>
<text x="1359.8" y="1155.9" font-size="26.6" font-family="'Liberation Sans', Arial, sans-serif" font-weight="normal" textLength="123.70" lengthAdjust="spacingAndGlyphs" fill="#0d0d0d" stroke="#0d0d0d" stroke-width="0.6">MjaRecJ2</text>
<text x="1086.3" y="1598.8" font-size="34" font-family="'Liberation Sans', Arial, sans-serif" font-weight="normal" textLength="396.15" lengthAdjust="spacingAndGlyphs" fill="#1b4757" stroke="#1b4757" stroke-width="0.6">NaCl concentration (mM)</text>
<text transform="translate(910 1364.3) rotate(-90)" x="0" y="0" font-size="34.6" font-family="'Liberation Sans', Arial, sans-serif" font-weight="normal" textLength="211.47" lengthAdjust="spacingAndGlyphs" fill="#1b4757" stroke="#1b4757" stroke-width="0.6">Cleavage (%)</text>
<text x="899.4" y="870.2" font-size="41.4" font-family="'Liberation Sans', Arial, sans-serif" font-weight="bold" textLength="58.98" lengthAdjust="spacingAndGlyphs" fill="#000">(D)</text>
<line x1="564" y1="2220.3" x2="1136.6" y2="2220.3" stroke="#999" stroke-width="2.3"/>
<line x1="564" y1="2126.1" x2="1136.6" y2="2126.1" stroke="#999" stroke-width="2.3"/>
<line x1="564" y1="2033.9" x2="1136.6" y2="2033.9" stroke="#999" stroke-width="2.3"/>
<line x1="564" y1="1941.6" x2="1136.6" y2="1941.6" stroke="#999" stroke-width="2.3"/>
<line x1="564" y1="1846.5" x2="1136.6" y2="1846.5" stroke="#999" stroke-width="2.3"/>
<rect x="564" y="1753.7" width="572.6" height="559.1" fill="none" stroke="#111" stroke-width="2.3"/>
<line x1="553.5" y1="2312.8" x2="564" y2="2312.8" stroke="#111" stroke-width="2.3"/>
<line x1="553.5" y1="2220.3" x2="564" y2="2220.3" stroke="#111" stroke-width="2.3"/>
<line x1="553.5" y1="2126.1" x2="564" y2="2126.1" stroke="#111" stroke-width="2.3"/>
<line x1="553.5" y1="2033.9" x2="564" y2="2033.9" stroke="#111" stroke-width="2.3"/>
<line x1="553.5" y1="1941.6" x2="564" y2="1941.6" stroke="#111" stroke-width="2.3"/>
<line x1="553.5" y1="1846.5" x2="564" y2="1846.5" stroke="#111" stroke-width="2.3"/>
<line x1="553.5" y1="1753.7" x2="564" y2="1753.7" stroke="#111" stroke-width="2.3"/>
<text x="516.4" y="2324.8" font-size="26.5" font-family="'DejaVu Sans', Verdana, sans-serif" font-weight="normal" textLength="17.43" lengthAdjust="spacingAndGlyphs" fill="#0d0d0d" stroke="#0d0d0d" stroke-width="0.25">0</text>
<text x="497.2" y="2232.3" font-size="26.5" font-family="'DejaVu Sans', Verdana, sans-serif" font-weight="normal" textLength="37.95" lengthAdjust="spacingAndGlyphs" fill="#0d0d0d" stroke="#0d0d0d" stroke-width="0.25">20</text>
<text x="497.8" y="2138.1" font-size="26.5" font-family="'DejaVu Sans', Verdana, sans-serif" font-weight="normal" textLength="37.29" lengthAdjust="spacingAndGlyphs" fill="#0d0d0d" stroke="#0d0d0d" stroke-width="0.25">40</text>
<text x="497.2" y="2045.9" font-size="26.5" font-family="'DejaVu Sans', Verdana, sans-serif" font-weight="normal" textLength="37.95" lengthAdjust="spacingAndGlyphs" fill="#0d0d0d" stroke="#0d0d0d" stroke-width="0.25">60</text>
<text x="497.2" y="1953.6" font-size="26.5" font-family="'DejaVu Sans', Verdana, sans-serif" font-weight="normal" textLength="37.95" lengthAdjust="spacingAndGlyphs" fill="#0d0d0d" stroke="#0d0d0d" stroke-width="0.25">80</text>
<text x="483.6" y="1858.5" font-size="26.5" font-family="'DejaVu Sans', Verdana, sans-serif" font-weight="normal" textLength="53.29" lengthAdjust="spacingAndGlyphs" fill="#0d0d0d" stroke="#0d0d0d" stroke-width="0.25">100</text>
<text x="483.6" y="1765.7" font-size="26.5" font-family="'DejaVu Sans', Verdana, sans-serif" font-weight="normal" textLength="53.29" lengthAdjust="spacingAndGlyphs" fill="#0d0d0d" stroke="#0d0d0d" stroke-width="0.25">120</text>
<line x1="563.8" y1="2312.8" x2="563.8" y2="2323.3" stroke="#111" stroke-width="2.3"/>
<line x1="636.8" y1="2312.8" x2="636.8" y2="2323.3" stroke="#111" stroke-width="2.3"/>
<line x1="706.9" y1="2312.8" x2="706.9" y2="2323.3" stroke="#111" stroke-width="2.3"/>
<line x1="779.9" y1="2312.8" x2="779.9" y2="2323.3" stroke="#111" stroke-width="2.3"/>
<line x1="850" y1="2312.8" x2="850" y2="2323.3" stroke="#111" stroke-width="2.3"/>
<line x1="920.5" y1="2312.8" x2="920.5" y2="2323.3" stroke="#111" stroke-width="2.3"/>
<line x1="993.5" y1="2312.8" x2="993.5" y2="2323.3" stroke="#111" stroke-width="2.3"/>
<line x1="1063.6" y1="2312.8" x2="1063.6" y2="2323.3" stroke="#111" stroke-width="2.3"/>
<line x1="1136.6" y1="2312.8" x2="1136.6" y2="2323.3" stroke="#111" stroke-width="2.3"/>
<text x="563.8" y="2375.5" font-size="32.5" font-family="'Liberation Serif', 'Times New Roman', serif" text-anchor="middle" textLength="32.6" lengthAdjust="spacing" fill="#000" stroke="#000" stroke-width="0.35">20</text>
<text x="636.8" y="2375.5" font-size="32.5" font-family="'Liberation Serif', 'Times New Roman', serif" text-anchor="middle" textLength="32.6" lengthAdjust="spacing" fill="#000" stroke="#000" stroke-width="0.35">30</text>
<text x="706.9" y="2375.5" font-size="32.5" font-family="'Liberation Serif', 'Times New Roman', serif" text-anchor="middle" textLength="32.6" lengthAdjust="spacing" fill="#000" stroke="#000" stroke-width="0.35">40</text>
<text x="779.9" y="2375.5" font-size="32.5" font-family="'Liberation Serif', 'Times New Roman', serif" text-anchor="middle" textLength="32.6" lengthAdjust="spacing" fill="#000" stroke="#000" stroke-width="0.35">50</text>
<text x="850" y="2375.5" font-size="32.5" font-family="'Liberation Serif', 'Times New Roman', serif" text-anchor="middle" textLength="32.6" lengthAdjust="spacing" fill="#000" stroke="#000" stroke-width="0.35">60</text>
<text x="920.5" y="2375.5" font-size="32.5" font-family="'Liberation Serif', 'Times New Roman', serif" text-anchor="middle" textLength="32.6" lengthAdjust="spacing" fill="#000" stroke="#000" stroke-width="0.35">70</text>
<text x="993.5" y="2375.5" font-size="32.5" font-family="'Liberation Serif', 'Times New Roman', serif" text-anchor="middle" textLength="32.6" lengthAdjust="spacing" fill="#000" stroke="#000" stroke-width="0.35">80</text>
<text x="1063.6" y="2375.5" font-size="32.5" font-family="'Liberation Serif', 'Times New Roman', serif" text-anchor="middle" textLength="32.6" lengthAdjust="spacing" fill="#000" stroke="#000" stroke-width="0.35">90</text>
<text x="1136.6" y="2375.5" font-size="32.5" font-family="'Liberation Serif', 'Times New Roman', serif" text-anchor="middle" textLength="48.9" lengthAdjust="spacing" fill="#000" stroke="#000" stroke-width="0.35">100</text>
<path d="M600.3 2305.8 L671.8 2258.3 L743.4 2020.7 L815 1898.6 L885.2 1868.8 L957 1949.9 L1028.5 2197.3 L1100.1 2229.9" fill="none" stroke="#000" stroke-width="6.4" stroke-linejoin="round" stroke-linecap="round"/>
<g fill="#000">
<circle cx="600.3" cy="2305.8" r="11.4"/>
<circle cx="671.8" cy="2258.3" r="11.4"/>
<circle cx="743.4" cy="2020.7" r="11.4"/>
<circle cx="815" cy="1898.6" r="11.4"/>
<circle cx="885.2" cy="1868.8" r="11.4"/>
<circle cx="957" cy="1949.9" r="11.4"/>
<circle cx="1028.5" cy="2197.3" r="11.4"/>
<circle cx="1100.1" cy="2229.9" r="11.4"/>
</g>
<path d="M600.3 2296.5 L671.8 2224.3 L743.4 2184.2 L815 2091 L885.2 1863.7 L957 1855.7 L1028.5 1870.2 L1100.1 2149.7" fill="none" stroke="#000" stroke-width="6.4" stroke-linejoin="round" stroke-linecap="round"/>
<g fill="#000">
<rect x="588.8" y="2285" width="23" height="23"/>
<rect x="660.3" y="2212.8" width="23" height="23"/>
<rect x="731.9" y="2172.7" width="23" height="23"/>
<rect x="803.5" y="2079.5" width="23" height="23"/>
<rect x="873.8" y="1852.2" width="23" height="23"/>
<rect x="945.5" y="1844.2" width="23" height="23"/>
<rect x="1017" y="1858.7" width="23" height="23"/>
<rect x="1088.6" y="2138.2" width="23" height="23"/>
</g>
<line x1="793.6" y1="2193.8" x2="859.6" y2="2193.8" stroke="#000" stroke-width="4.6"/>
<g fill="#000">
<circle cx="826.6" cy="2193.8" r="10.8"/>
</g>
<line x1="793.6" y1="2251.8" x2="859.6" y2="2251.8" stroke="#000" stroke-width="4.6"/>
<g fill="#000">
<rect x="816.1" y="2241.3" width="21" height="21"/>
</g>
<text x="863.1" y="2202.6" font-size="26.6" font-family="'Liberation Sans', Arial, sans-serif" font-weight="normal" textLength="123.29" lengthAdjust="spacingAndGlyphs" fill="#0d0d0d" stroke="#0d0d0d" stroke-width="0.6">MjaRecJ1</text>
<text x="863.1" y="2262.5" font-size="26.6" font-family="'Liberation Sans', Arial, sans-serif" font-weight="normal" textLength="123.29" lengthAdjust="spacingAndGlyphs" fill="#0d0d0d" stroke="#0d0d0d" stroke-width="0.6">MjaRecJ2</text>
<text x="717.9" y="2440.6" font-size="34" font-family="'Liberation Sans', Arial, sans-serif" font-weight="normal" textLength="267.17" lengthAdjust="spacingAndGlyphs" fill="#1b4757" stroke="#1b4757" stroke-width="0.6">Temperature (&#176;C)</text>
<text transform="translate(456.7 2155.8) rotate(-90)" x="0" y="0" font-size="34.6" font-family="'Liberation Sans', Arial, sans-serif" font-weight="normal" textLength="208.22" lengthAdjust="spacingAndGlyphs" fill="#1b4757" stroke="#1b4757" stroke-width="0.6">Cleavage (%)</text>
<text x="452.9" y="1702.2" font-size="41.4" font-family="'Liberation Sans', Arial, sans-serif" font-weight="bold" textLength="51.59" lengthAdjust="spacingAndGlyphs" fill="#000">(E)</text>
</svg></body></html>
